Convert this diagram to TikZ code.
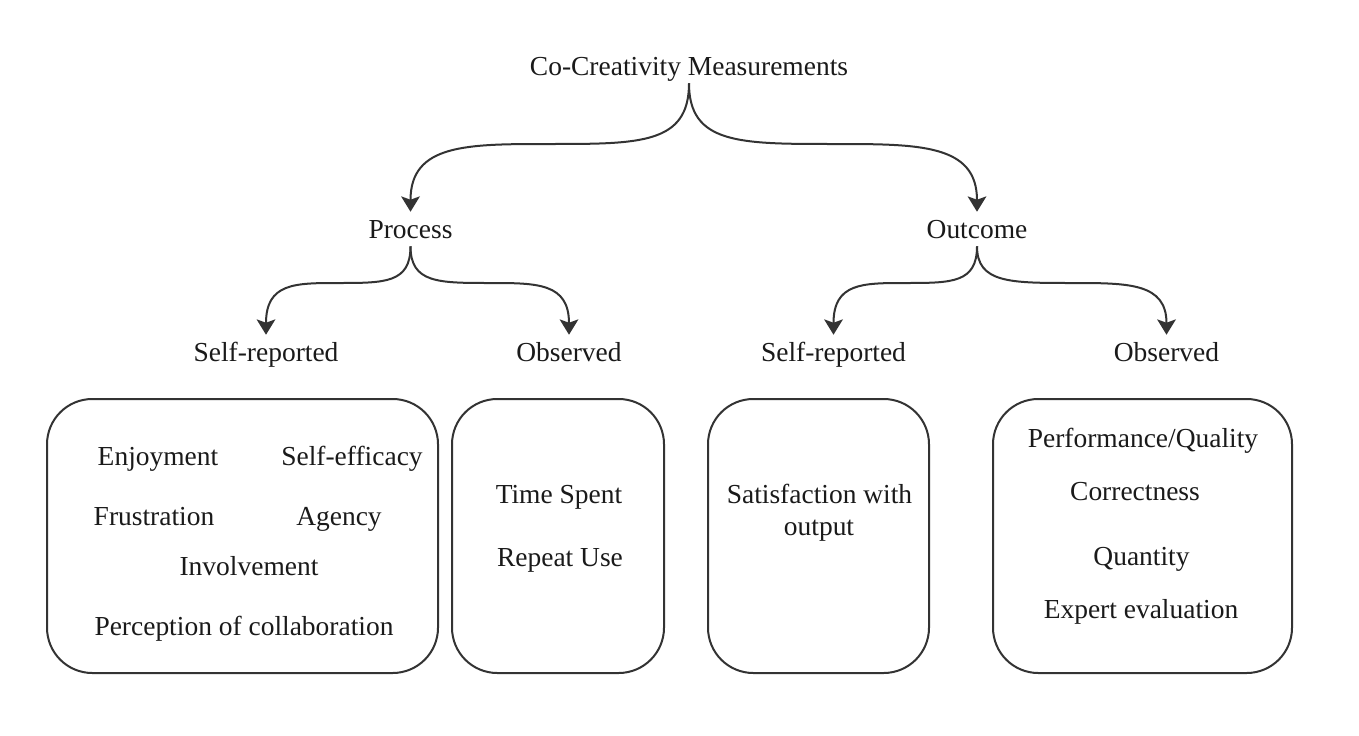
\documentclass[tikz,border=0pt]{standalone}
\usepackage{fontspec}
\setmainfont{Liberation Serif}
\usetikzlibrary{arrows.meta,calc}
\definecolor{ln}{HTML}{333333}
\definecolor{txt}{HTML}{1A1A1A}
\newcommand{\curvarr}[3]{%
  \draw[conn] let \p1=(#1), \p2=(#2), \p3=(#3) in
    (\p1) .. controls (\x1,\y3) and ({\x1+0.175*(\x2-\x1)},\y3) ..
    ({0.5*\x1+0.5*\x2},\y3) .. controls ({\x2+0.2*(\x1-\x2)},\y3) and (\x2,\y3) .. (\p2);}
\begin{document}
\begin{tikzpicture}[x=0.75pt,y=-0.75pt,
  lbl/.style={inner sep=0pt, anchor=base, text=txt, font=\fontsize{20.6}{24.7}\selectfont},
  hd/.style={lbl, text height=18pt, text depth=4.5pt, inner ysep=1.5pt},
  boxn/.style={draw=ln, line width=1.5pt, rounded corners=34pt, inner sep=0pt},
  conn/.style={draw=ln, line width=1.5pt, -{Stealth[length=11.5pt,width=14pt,inset=2.5pt]}}]
\useasboundingbox (0,0) rectangle (1359,735);
\fill[white] (0,0) rectangle (1359,735);

% heading labels
\node[hd] (t) at (689,75) {Co-Creativity Measurements};
\node[hd] (p) at (410.5,238) {Process};
\node[hd] (o) at (977,238) {Outcome};
\node[hd] (psr) at (266,361) {Self-reported};
\node[hd] (pob) at (569,361) {Observed};
\node[hd] (osr) at (833.5,361) {Self-reported};
\node[hd] (oob) at (1166.5,361) {Observed};

% mid-level guides
\coordinate (ya) at (0,144);
\coordinate (yb) at (0,283);

% connectors
\curvarr{t.south}{p.north}{ya}
\curvarr{t.south}{o.north}{ya}
\curvarr{p.south}{psr.north}{yb}
\curvarr{p.south}{pob.north}{yb}
\curvarr{o.south}{osr.north}{yb}
\curvarr{o.south}{oob.north}{yb}

% boxes
\node[boxn, minimum width=293.25pt, minimum height=205.5pt] (b1) at (242.5,536) {};
\node[boxn, minimum width=159pt, minimum height=205.5pt] (b2) at (558,536) {};
\node[boxn, minimum width=165.75pt, minimum height=205.5pt] (b3) at (818.5,536) {};
\node[boxn, minimum width=224.25pt, minimum height=205.5pt] (b4) at (1142.5,536) {};

% box 1 items
\node[lbl] (e1) at (158,465) {Enjoyment};
\node[lbl] (e2) at (352,465) {Self-efficacy};
\node[lbl] (e3) at (154,525) {Frustration};
\node[lbl] (e4) at (339,525) {Agency};
\node[lbl] (e5) at (249,575) {Involvement};
\node[lbl] (e6) at (244,635) {Perception of collaboration};

% box 2 items
\node[lbl] (f1) at (559,503) {Time Spent};
\node[lbl] (f2) at (560,566) {Repeat Use};

% box 3 items
\node[lbl] (g1) at (819.5,503) {Satisfaction with};
\node[lbl] (g2) at (819,535) {output};

% box 4 items
\node[lbl] (h1) at (1143,447) {Performance/Quality};
\node[lbl] (h2) at (1135,500) {Correctness};
\node[lbl] (h3) at (1141.5,565) {Quantity};
\node[lbl] (h4) at (1141,618) {Expert evaluation};
\end{tikzpicture}
\end{document}
